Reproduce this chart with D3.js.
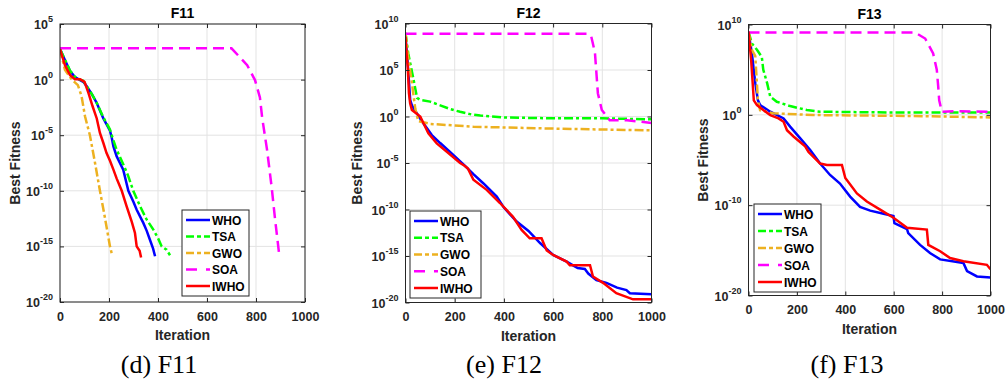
<!DOCTYPE html>
<html>
<head>
<meta charset="utf-8">
<script src="https://cdn.jsdelivr.net/npm/d3@7"></script>
<style>
  body { margin: 0; background: #fff; }
  svg { display: block; }
</style>
</head>
<body>
<svg id="chart" width="1006" height="388"></svg>
<script>
// [iteration, best fitness]
const f11WHO = [[0,5.6e2],[20,5.8e1],[41,5.9],[61,1.7],[82,9e-1],[95,6.3e-1],[109,2.5e-1],[130,5e-2],[150,7.9e-3],[177,3.2e-4],[204,2.5e-5],[211,6.3e-6],[218,1e-6],[231,1.3e-7],[258,7.9e-9],[279,1e-10],[300,1e-11],[313,2e-12],[340,1.3e-13],[354,2.5e-14],[367,4e-15],[380,6.3e-16],[388,1.3e-16]];
const f11TSA = [[0,5.6e2],[20,6.3e1],[41,6.3],[61,1.8],[82,1],[95,7.9e-1],[109,2.5e-1],[130,5e-2],[150,7.9e-3],[177,4e-4],[204,3.2e-5],[211,1e-5],[231,5e-7],[258,2.5e-8],[279,2e-9],[299,1e-10],[327,4e-12],[354,2.5e-13],[381,3.2e-14],[401,5e-15],[415,1e-15],[435,5e-16],[449,1.6e-16]];
const f11GWO = [[0,5.6e2],[20,7.9],[48,1],[73,3.2e-1],[88,3.2e-2],[102,5e-4],[122,1e-5],[143,3.2e-8],[163,1e-10],[184,3.2e-13],[204,1e-15],[213,1.6e-16]];
const f11SOA = [[0,6.5e2],[700,6.5e2],[764,2e1],[796,9.1e-1],[816,2.5e-2],[825,4e-4],[845,5e-7],[864,2e-10],[877,4e-13],[894,2.5e-16]];
const f11IWHO = [[0,5.6e2],[20,2e1],[41,2.5],[61,1.1],[82,1.1],[100,6.3e-1],[116,6.3e-2],[133,4e-3],[150,3.2e-4],[163,1.6e-5],[177,2e-6],[190,2.5e-7],[204,5e-8],[218,8e-9],[231,1.3e-9],[252,1e-10],[272,4e-12],[293,1.6e-13],[306,1.6e-14],[313,1e-15],[325,4e-16],[331,1e-16]];

const f12WHO = [[0,4e8],[5,1e7],[11,1e5],[19,6.3e1],[26,1.6e1],[40,4],[66,3.2e-1],[107,1e-2],[141,1.4e-3],[181,1.6e-4],[242,5e-6],[276,6.3e-7],[317,6.3e-8],[371,2.5e-9],[400,1.6e-10],[452,5e-12],[500,5e-13],[547,2.5e-14],[600,1.3e-15],[655,2.5e-16],[681,1e-16],[700,5e-17],[729,4e-17],[743,1.3e-17],[776,2.5e-18],[817,1.3e-18],[860,4e-19],[898,2.2e-19],[912,1e-19],[1000,7.9e-20]];
const f12TSA = [[0,1e9],[11,6.3e6],[31,1.6e4],[47,1e2],[59,6.3e1],[100,4e1],[141,1.6e1],[181,6.3],[222,3.2],[262,1.8],[304,1.26],[400,7.9e-1],[600,6.3e-1],[800,6.3e-1],[1000,5e-1]];
const f12GWO = [[0,1e9],[10,3.2e6],[26,4e3],[40,6.3],[52,3.2e-1],[100,1.6e-1],[276,7.9e-2],[600,5e-2],[1000,3.2e-2]];
const f12SOA = [[0,7.9e8],[741,7.9e8],[755,4e8],[770,7.9e6],[782,3.2e2],[798,5],[830,4e-1],[900,4e-1],[1000,2e-1]];
const f12IWHO = [[0,4e8],[5,3.2e6],[9,2.5e5],[14,3.2e2],[19,2.5e1],[26,5],[60,1],[93,1.6e-2],[127,1.3e-3],[168,1.6e-4],[222,1e-5],[240,5e-6],[254,2.5e-6],[276,1.6e-7],[330,1.3e-8],[384,5e-10],[437,1.6e-11],[472,6.3e-13],[505,7.9e-14],[553,7.9e-14],[574,4e-15],[600,1.3e-15],[655,2.5e-16],[668,1e-16],[750,1e-16],[762,6.3e-18],[803,1.3e-18],[857,1e-19],[925,2.2e-20],[1000,2.2e-20]];

const f13WHO = [[0,1.3e9],[14,6.3e6],[28,3.2e3],[39,4e1],[48,1.2e1],[90,2.2],[145,4e-1],[172,5e-2],[214,2.5e-3],[255,1.3e-4],[296,4e-6],[337,2.2e-7],[378,2.5e-8],[420,8.9e-10],[461,6.3e-11],[503,2.5e-11],[558,1.1e-11],[599,6.3e-12],[603,1e-12],[655,2.2e-13],[660,7.9e-14],[709,4e-15],[750,5e-16],[792,1e-16],[888,4e-17],[903,5e-18],[944,1.3e-18],[1000,1e-18]];
const f13TSA = [[0,1.6e9],[14,7.9e7],[35,1.6e7],[55,2.5e6],[61,1e5],[77,3.2e3],[90,1e2],[117,2.8e1],[172,9.3],[241,3.4],[296,2.2],[600,1.8],[1000,1.8]];
const f13GWO = [[0,1.6e9],[14,1.6e7],[28,3.2e6],[39,4e1],[48,3.2],[102,1.5],[267,9.5e-1],[680,7.4e-1],[1000,5.2e-1]];
const f13SOA = [[0,1.3e9],[689,1.3e9],[730,2.8e8],[763,6.3e6],[778,1e5],[784,1.3e3],[788,4e1],[799,2.2],[850,2.5],[1000,2.2]];
const f13IWHO = [[0,1.6e9],[11,1.1e6],[22,4e1],[35,1.2e1],[61,3.4],[90,9.5e-1],[124,4e-1],[145,1.7e-1],[159,2e-2],[186,4e-3],[234,3.2e-4],[248,7.9e-5],[296,4e-6],[324,2.8e-6],[386,2.8e-6],[400,1e-7],[448,2e-9],[489,2.5e-10],[544,3.2e-11],[599,4e-12],[655,3.2e-13],[737,2e-13],[743,4e-15],[792,7.9e-16],[833,1.4e-16],[888,6.3e-17],[985,2.5e-17],[1000,7.9e-18]];

const seriesNames = ['WHO', 'TSA', 'GWO', 'SOA', 'IWHO'];
const xTickVals = [0, 200, 400, 600, 800, 1000];
const f11YExps = [5, 0, -5, -10, -15, -20];
const f12YExps = [10, 5, 0, -5, -10, -15, -20];
const f13YExps = [10, 0, -10, -20];

const colors = ['#0000ff', '#00ff00', '#edb120', '#ff00ff', '#ff0000'];
const dashes = [null, '9,3,3,3', '9,3,3,3', '11,6', null];
const font = "'Liberation Sans', Arial, sans-serif";
const ink = '#262626';

const panels = [
  { title: 'F11', caption: '(d) F11', left: 60, right: 305, top: 24, bottom: 302, exps: f11YExps,
    series: [f11WHO, f11TSA, f11GWO, f11SOA, f11IWHO], ylabX: 20, titleY: 18, capX: 159,
    legend: { x: 182, y: 210, w: 67, h: 86 } },
  { title: 'F12', caption: '(e) F12', left: 405.5, right: 651.5, top: 23.5, bottom: 302.5, exps: f12YExps,
    series: [f12WHO, f12TSA, f12GWO, f12SOA, f12IWHO], ylabX: 362, titleY: 18, capX: 504,
    legend: { x: 410, y: 211, w: 71, h: 87 } },
  { title: 'F13', caption: '(f) F13', left: 748.5, right: 990.5, top: 24.5, bottom: 295.5, exps: f13YExps,
    series: [f13WHO, f13TSA, f13GWO, f13SOA, f13IWHO], ylabX: 707.5, titleY: 19, capX: 847,
    legend: { x: 754, y: 204, w: 67, h: 88 } }
];

const svg = d3.select('#chart');
const defs = svg.append('defs');

panels.forEach((p, i) => {
  const ys = p.exps;
  const x = d3.scaleLinear().domain([0, 1000]).range([p.left, p.right]);
  const y = d3.scaleLog()
    .domain([Math.pow(10, d3.min(ys)), Math.pow(10, d3.max(ys))])
    .range([p.bottom, p.top]);
  const g = svg.append('g');

  // grid
  g.append('g').selectAll('line').data(xTickVals).join('line')
    .attr('x1', d => x(d)).attr('x2', d => x(d))
    .attr('y1', p.top).attr('y2', p.bottom)
    .attr('stroke', '#e3e3e3').attr('stroke-width', 1);
  g.append('g').selectAll('line').data(ys).join('line')
    .attr('x1', p.left).attr('x2', p.right)
    .attr('y1', e => y(Math.pow(10, e))).attr('y2', e => y(Math.pow(10, e)))
    .attr('stroke', '#e3e3e3').attr('stroke-width', 1);

  // curves
  defs.append('clipPath').attr('id', 'clip' + i).append('rect')
    .attr('x', p.left).attr('y', p.top)
    .attr('width', p.right - p.left).attr('height', p.bottom - p.top);
  const line = d3.line().x(d => x(d[0])).y(d => y(d[1]));
  p.series.forEach((s, k) => {
    g.append('path').datum(s)
      .attr('d', line)
      .attr('fill', 'none')
      .attr('stroke', colors[k])
      .attr('stroke-width', 2.5)
      .attr('stroke-dasharray', dashes[k])
      .attr('clip-path', `url(#clip${i})`);
  });

  // axes, ticks pointing inwards
  const tickVals = ys.map(e => Math.pow(10, e));
  const bottomAx = g.append('g').attr('transform', `translate(0,${p.bottom})`)
    .call(d3.axisBottom(x).tickValues(xTickVals).tickFormat(d3.format('d'))
      .tickSizeInner(-4).tickSizeOuter(0).tickPadding(10));
  g.append('g').attr('transform', `translate(0,${p.top})`)
    .call(d3.axisTop(x).tickValues(xTickVals).tickSizeInner(-4).tickSizeOuter(0).tickFormat(''));
  g.append('g').attr('transform', `translate(${p.left},0)`)
    .call(d3.axisLeft(y).tickValues(tickVals).tickSizeInner(-4).tickSizeOuter(0).tickFormat(''));
  g.append('g').attr('transform', `translate(${p.right},0)`)
    .call(d3.axisRight(y).tickValues(tickVals).tickSizeInner(-4).tickSizeOuter(0).tickFormat(''));
  g.selectAll('.domain').remove();
  g.selectAll('.tick line').attr('stroke', ink);
  bottomAx.selectAll('text')
    .attr('font-family', font).attr('font-size', 12.5).attr('font-weight', 'bold').attr('fill', ink);

  g.append('rect')
    .attr('x', p.left).attr('y', p.top)
    .attr('width', p.right - p.left).attr('height', p.bottom - p.top)
    .attr('fill', 'none').attr('stroke', ink).attr('stroke-width', 1);

  // y tick labels 10^e
  ys.forEach(e => {
    const t = g.append('text')
      .attr('x', p.left - 7).attr('y', y(Math.pow(10, e)) + 5)
      .attr('text-anchor', 'end')
      .attr('font-family', font).attr('font-weight', 'bold').attr('fill', ink);
    t.append('tspan').attr('font-size', 12.5).text('10');
    t.append('tspan').attr('font-size', 9).attr('dy', -7).text(e);
  });

  // titles and labels
  g.append('text').attr('x', (p.left + p.right) / 2).attr('y', p.titleY)
    .attr('text-anchor', 'middle').attr('font-family', font).attr('font-size', 14)
    .attr('font-weight', 'bold').attr('fill', '#000').text(p.title);
  g.append('text').attr('x', (p.left + p.right) / 2).attr('y', p.bottom + 38)
    .attr('text-anchor', 'middle').attr('font-family', font).attr('font-size', 14)
    .attr('font-weight', 'bold').attr('fill', ink).text('Iteration');
  g.append('text')
    .attr('transform', `translate(${p.ylabX},${(p.top + p.bottom) / 2}) rotate(-90)`)
    .attr('text-anchor', 'middle').attr('font-family', font).attr('font-size', 14)
    .attr('font-weight', 'bold').attr('fill', ink).text('Best Fitness');
  g.append('text').attr('x', p.capX).attr('y', 373)
    .attr('text-anchor', 'middle').attr('font-family', "'Liberation Serif', 'Times New Roman', serif")
    .attr('font-size', 26).attr('fill', '#000').text(p.caption);

  // legend
  const L = p.legend;
  const step = (L.h - 20) / 4;
  const lg = g.append('g');
  lg.append('rect').attr('x', L.x).attr('y', L.y).attr('width', L.w).attr('height', L.h)
    .attr('fill', '#fff').attr('stroke', ink).attr('stroke-width', 1);
  seriesNames.forEach((name, k) => {
    const cy = L.y + 10 + k * step;
    lg.append('line').attr('x1', L.x + 4).attr('x2', L.x + 28).attr('y1', cy).attr('y2', cy)
      .attr('stroke', colors[k]).attr('stroke-width', 2.5)
      .attr('stroke-dasharray', k === 3 ? '11,9' : (dashes[k] ? '8,3,4,3' : null));
    lg.append('text').attr('x', L.x + 30).attr('y', cy + 4.5)
      .attr('font-family', font).attr('font-size', 12).attr('font-weight', 'bold')
      .attr('fill', '#000').text(name);
  });
});
</script>
</body>
</html>
